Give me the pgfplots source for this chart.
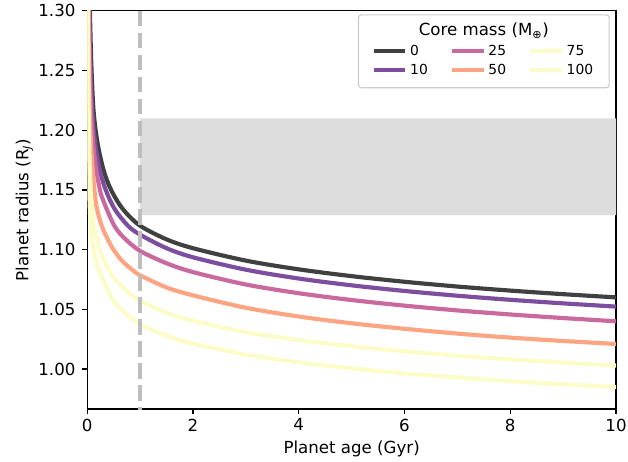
\documentclass[border=0pt]{standalone}
\usepackage{fontspec}
\setmainfont{DejaVu Sans}
\usepackage{pgfplots}
\pgfplotsset{compat=1.18}

\definecolor{cA}{RGB}{64,64,64}
\definecolor{cB}{RGB}{125,77,160}
\definecolor{cC}{RGB}{201,105,158}
\definecolor{cD}{RGB}{253,165,130}
\definecolor{cE}{RGB}{252,252,200}
\definecolor{band}{RGB}{221,221,221}
\definecolor{dashgray}{RGB}{190,190,190}
\definecolor{frame}{RGB}{204,204,204}

\begin{document}
\begin{tikzpicture}
\begin{axis}[
    width=381.6pt, height=287.3pt, scale only axis,
    xmin=0, xmax=10, ymin=0.9665, ymax=1.30,
    xtick={0,2,4,6,8,10},
    ytick={1.00,1.05,1.10,1.15,1.20,1.25,1.30},
    xticklabel style={inner xsep=1pt},
    yticklabel style={xshift=-1.5pt, /pgf/number format/.cd, fixed, fixed zerofill, precision=2},
    /pgf/number format/assume math mode=true,
    tick label style={font=\fontsize{12}{14}\selectfont},
    label style={font=\fontsize{12}{14}\selectfont},
    ylabel shift=-3pt,
    tick align=outside, xtick pos=bottom, ytick pos=left,
    major tick length=3.5pt,
    every tick/.style={black, line width=0.8pt},
    axis line style={line width=0.8pt},
    xlabel={Planet age (Gyr)},
    ylabel={Planet radius (R\textsubscript{\itshape J})},
    legend columns=2, transpose legend,
    legend cell align=left,
    legend style={draw=none, fill=none, at={(rel axis cs:0.75,0.875)}, anchor=center,
        font=\fontsize{10}{12}\selectfont,
        row sep=1pt, /tikz/every even column/.append style={column sep=14pt}},
    legend image code/.code={\draw (0cm,0cm) -- (0.8cm,0cm);},
    every axis plot/.append style={line width=3pt},
]

\addplot[fill=band, draw=none, forget plot] coordinates {(1,1.129) (10,1.129) (10,1.21) (1,1.21) (1,1.129)};

\addplot[cA, smooth] coordinates {
(0.04,1.33) (0.05,1.300) (0.075,1.258) (0.11,1.222) (0.15,1.203) (0.21,1.1855)
(0.3,1.168) (0.4,1.155) (0.53,1.1435) (0.7,1.1325) (1,1.1200) (1.5,1.1086)
(2,1.1012) (3,1.0908) (4,1.0835) (5,1.0778) (6,1.0731) (7,1.0691) (8,1.0657)
(9,1.0627) (10,1.0600)};
\addlegendentry{0}

\addplot[cB, smooth] coordinates {
(0.031,1.33) (0.038,1.300) (0.058,1.258) (0.085,1.222) (0.115,1.203) (0.16,1.1855)
(0.23,1.168) (0.31,1.155) (0.41,1.1435) (0.54,1.1325) (0.77,1.1200) (1,1.1125)
(1.5,1.1012) (2,1.0936) (3,1.0832) (4,1.0758) (5,1.0701) (6,1.0654) (7,1.0614)
(8,1.0580) (9,1.0550) (10,1.0523)};
\addlegendentry{10}

\addplot[cC, smooth] coordinates {
(0.024,1.34) (0.028,1.314) (0.042,1.267) (0.061,1.231) (0.083,1.208) (0.12,1.1855)
(0.17,1.167) (0.22,1.1545) (0.28,1.1437) (0.5,1.121) (0.7,1.1097)
(1,1.0989) (1.5,1.0886) (2,1.0812) (3,1.0708) (4,1.0635) (5,1.0578) (6,1.0531)
(7,1.0491) (8,1.0457) (9,1.0427) (10,1.0400)};
\addlegendentry{25}

\addplot[cD, smooth] coordinates {
(0.018,1.33) (0.022,1.300) (0.03,1.262) (0.045,1.222) (0.06,1.200) (0.075,1.1855)
(0.1,1.168) (0.15,1.1437) (0.2,1.131) (0.3,1.117) (0.47,1.1019) (0.65,1.091)
(0.84,1.0835) (1,1.0785) (1.5,1.0683) (2,1.0617) (3,1.0513) (4,1.0440) (5,1.0383)
(6,1.0337) (7,1.0297) (8,1.0263) (9,1.0235) (10,1.0210)};
\addlegendentry{50}

\addplot[cE, smooth] coordinates {
(0.012,1.34) (0.015,1.30) (0.02,1.25) (0.03,1.205) (0.045,1.172) (0.06,1.155)
(0.08,1.14) (0.12,1.122) (0.18,1.1101) (0.25,1.0987) (0.37,1.0859) (0.55,1.0739)
(0.8,1.0633) (1,1.0570) (1.5,1.0471) (2,1.0404) (3,1.0309) (4,1.0243) (5,1.0191)
(6,1.0148) (7,1.0112) (8,1.0081) (9,1.0054) (10,1.0029)};
\addlegendentry{75}

\addplot[cE, smooth] coordinates {
(0.008,1.34) (0.01,1.30) (0.013,1.25) (0.02,1.20) (0.03,1.165) (0.05,1.133)
(0.07,1.118) (0.1,1.105) (0.2,1.085) (0.34,1.071) (0.5,1.0571) (0.72,1.0468)
(1,1.0375) (1.5,1.0279) (2,1.0213) (3,1.0121) (4,1.0056) (5,1.0006) (6,0.9964)
(7,0.9929) (8,0.9899) (9,0.9872) (10,0.9848)};
\addlegendentry{100}

\addplot[dashgray, dash pattern=on 11.1pt off 4.8pt, forget plot] coordinates {(1,1.30) (1,0.95)};

\draw[frame, line width=0.8pt, rounded corners=2pt]
    (rel axis cs:0.513,0.807) rectangle (rel axis cs:0.987,0.990);
\node[anchor=center, font=\fontsize{12}{14}\selectfont] at (rel axis cs:0.75,0.950) {Core mass (M\textsubscript{⊕})};
\end{axis}
\path (current bounding box.west) ++(-8pt,0);
\end{tikzpicture}
\end{document}
